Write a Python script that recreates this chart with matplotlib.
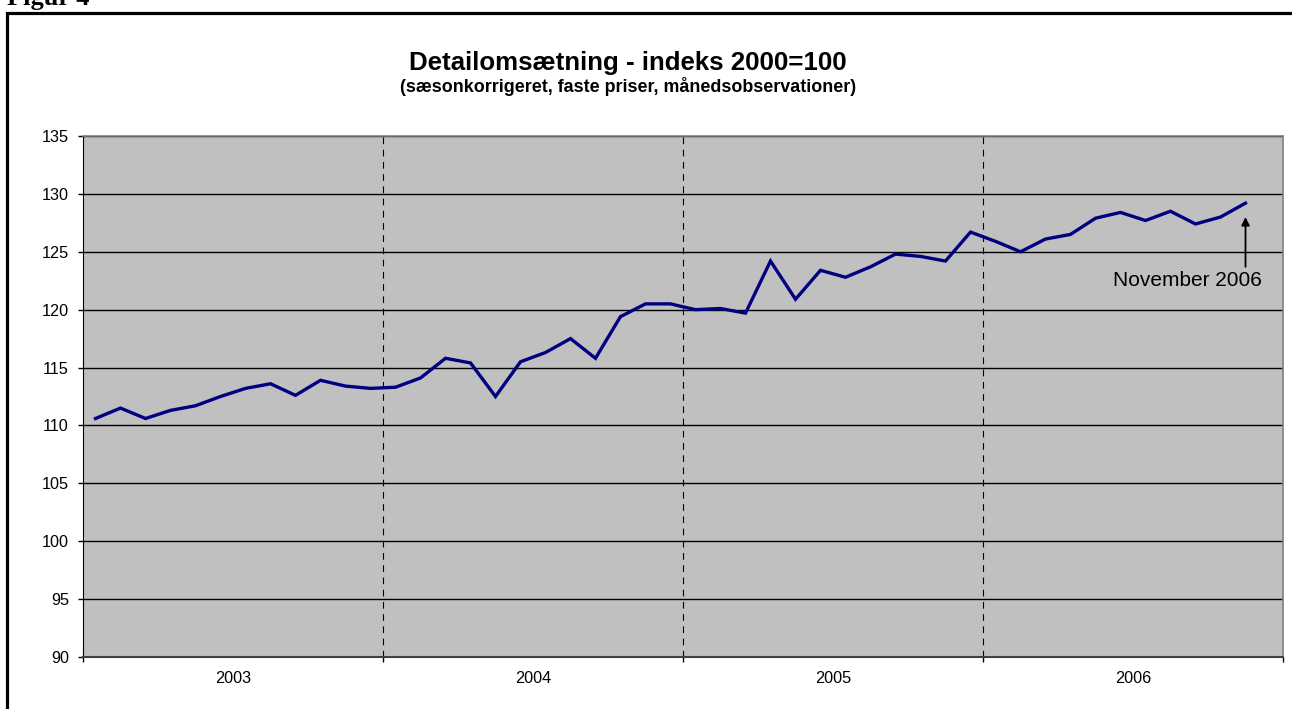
import matplotlib
matplotlib.use("Agg")
import matplotlib.pyplot as plt
from matplotlib.patches import Rectangle
import numpy as np

plt.rcParams['font.family'] = ['Liberation Sans', 'DejaVu Sans']

years = ['2003', '2004', '2005', '2006']
values_2003 = [110.6, 111.5, 110.6, 111.3, 111.7, 112.5, 113.2, 113.6, 112.6, 113.9, 113.4, 113.2]
values_2004 = [113.3, 114.1, 115.8, 115.4, 112.5, 115.5, 116.3, 117.5, 115.8, 119.4, 120.5, 120.5]
values_2005 = [120.0, 120.1, 119.7, 124.2, 120.9, 123.4, 122.8, 123.7, 124.8, 124.6, 124.2, 126.7]
values_2006 = [125.9, 125.0, 126.1, 126.5, 127.9, 128.4, 127.7, 128.5, 127.4, 128.0, 129.2]
values = values_2003 + values_2004 + values_2005 + values_2006
title = 'Detailomsætning - indeks 2000=100'
subtitle = '(sæsonkorrigeret, faste priser, månedsobservationer)'
annotation = 'November 2006'

W, H = 1292, 709
fig = plt.figure(figsize=(W / 100, H / 100), dpi=100)

# outer frame
fig.patches.append(Rectangle((7 / W, -0.1), 1.2, (H - 13) / H + 0.1, transform=fig.transFigure,
                             fill=False, edgecolor='black', linewidth=2.3, clip_on=False))
fig.text(7 / W, (H - 5) / H, 'Figur 4', family=['Liberation Serif', 'DejaVu Serif'],
         fontweight='bold', fontsize=19, ha='left', va='baseline')

fig.text(628 / W, (H - 63) / H, title, fontsize=18.6, fontweight='bold', ha='center', va='center')
fig.text(628 / W, (H - 87) / H, subtitle, fontsize=12.9, fontweight='bold', ha='center', va='center')

ax = fig.add_axes([83 / W, (H - 657) / H, 1200 / W, 521 / H])
ax.set_facecolor('#C0C0C0')

x = np.arange(len(values))
ax.set_xlim(-0.5, 12 * len(years) - 0.5)
ax.set_ylim(90, 135)

ax.set_yticks(np.arange(90, 136, 5))
ax.grid(axis='y', color='black', linewidth=1.0)
ax.set_axisbelow(True)

bounds = [12 * i - 0.5 for i in range(len(years) + 1)]
for b in bounds[1:-1]:
    ax.axvline(b, color='black', linestyle=(0, (6, 5)), linewidth=0.8, zorder=1)
ax.set_xticks(bounds)
ax.set_xticklabels([])
ax.set_xticks([12 * i + 5.5 for i in range(len(years))], minor=True)
ax.set_xticklabels(years, minor=True)
ax.tick_params(axis='x', which='minor', length=0, pad=10, labelsize=11.7)
ax.tick_params(axis='x', which='major', length=3.6, direction='out', color='black', width=1)
ax.tick_params(axis='y', length=3.6, direction='out', labelsize=11.7, pad=6.5, width=1)

ax.plot(x, values, color='#000080', linewidth=2.4, zorder=3, solid_joinstyle='miter')

for s in ['top', 'right']:
    ax.spines[s].set_color('#808080')
    ax.spines[s].set_linewidth(1.2)
ax.spines['left'].set_color('black')
ax.spines['bottom'].set_color('#404040')
ax.spines['bottom'].set_linewidth(1.5)

# annotation: vertical arrow below last point, label below-left
ax.annotate('', xy=(x[-1], 128.0), xytext=(x[-1], 123.7),
            arrowprops=dict(arrowstyle='-|>', color='black', lw=1.3, mutation_scale=12,
                            shrinkA=0, shrinkB=0), zorder=4)
ax.text(x[-1] - 2.34, 122.55, annotation, fontsize=15, ha='center', va='center', zorder=4)

fig.savefig('out.png', dpi=100)
